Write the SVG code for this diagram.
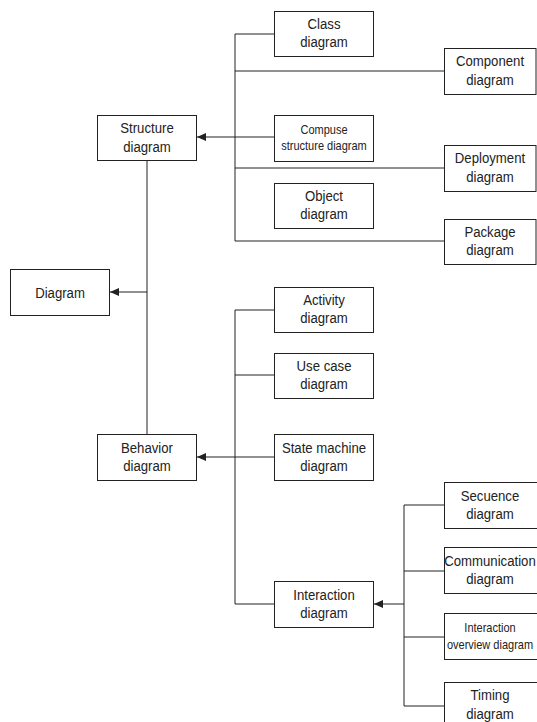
<svg xmlns="http://www.w3.org/2000/svg" width="537" height="722" viewBox="0 0 537 722">
<style>
.box{fill:#fff;stroke:#222;stroke-width:1}
.ln{fill:none;stroke:#222;stroke-width:1}
text{font-family:"Liberation Sans",Arial,sans-serif;font-size:15.5px;fill:#222;text-anchor:middle}
.sm{font-size:12.5px}
</style>
<defs>
<marker id="ah" markerWidth="10" markerHeight="8" refX="9" refY="4" orient="auto" markerUnits="userSpaceOnUse">
<path d="M0,0 L9,4 L0,8 Z" fill="#222"/>
</marker>
</defs>
<rect width="537" height="722" fill="#fff"/>
<g id="connectors">
<path class="ln" d="M147,160 V434"/>
<path class="ln" d="M147,292 H110" marker-end="url(#ah)"/>
<path class="ln" d="M235,34 V241"/>
<path class="ln" d="M235,34 H274 M235,71 H444 M235,168 H444 M235,241 H444"/>
<path class="ln" d="M274,137 H197" marker-end="url(#ah)"/>
<path class="ln" d="M235,310 V604"/>
<path class="ln" d="M235,310 H274 M235,375 H274 M235,604 H274"/>
<path class="ln" d="M274,457 H197" marker-end="url(#ah)"/>
<path class="ln" d="M404,505 V706"/>
<path class="ln" d="M404,505 H444 M404,571 H444 M404,637 H444 M404,706 H444"/>
<path class="ln" d="M404,604 H374" marker-end="url(#ah)"/>
</g>
<g id="structure"><rect class="box" x="97.5" y="115.5" width="99" height="45"/><text transform="translate(147,133) scale(0.85,1)"><tspan x="0" y="0">Structure</tspan><tspan x="0" y="19">diagram</tspan></text></g>
<g id="diagram"><rect class="box" x="10.5" y="269.5" width="99" height="46"/><text transform="translate(60,297.5) scale(0.85,1)">Diagram</text></g>
<g id="behavior"><rect class="box" x="97.5" y="434.5" width="99" height="46"/><text transform="translate(147,452.5) scale(0.85,1)"><tspan x="0" y="0">Behavior</tspan><tspan x="0" y="19">diagram</tspan></text></g>
<g id="class"><rect class="box" x="274.5" y="11.5" width="99" height="45"/><text transform="translate(324,28.5) scale(0.85,1)"><tspan x="0" y="0">Class</tspan><tspan x="0" y="19">diagram</tspan></text></g>
<g id="component"><rect class="box" x="444.5" y="48.5" width="91.5" height="46"/><text transform="translate(490,66) scale(0.85,1)"><tspan x="0" y="0">Component</tspan><tspan x="0" y="19">diagram</tspan></text></g>
<g id="compuse"><rect class="box" x="274.5" y="115.5" width="99" height="46"/><text class="sm" transform="translate(324,133.5) scale(0.88,1)"><tspan x="0" y="0">Compuse</tspan><tspan x="0" y="16.5">structure diagram</tspan></text></g>
<g id="deployment"><rect class="box" x="444.5" y="145.5" width="91.5" height="46"/><text transform="translate(490,163) scale(0.85,1)"><tspan x="0" y="0">Deployment</tspan><tspan x="0" y="19">diagram</tspan></text></g>
<g id="object"><rect class="box" x="274.5" y="183.5" width="99" height="45"/><text transform="translate(324,200.5) scale(0.85,1)"><tspan x="0" y="0">Object</tspan><tspan x="0" y="19">diagram</tspan></text></g>
<g id="package"><rect class="box" x="444.5" y="219.5" width="91.5" height="45"/><text transform="translate(490,236.5) scale(0.85,1)"><tspan x="0" y="0">Package</tspan><tspan x="0" y="19">diagram</tspan></text></g>
<g id="activity"><rect class="box" x="274.5" y="287.5" width="99" height="45"/><text transform="translate(324,304.5) scale(0.85,1)"><tspan x="0" y="0">Activity</tspan><tspan x="0" y="19">diagram</tspan></text></g>
<g id="usecase"><rect class="box" x="274.5" y="353.5" width="99" height="45"/><text transform="translate(324,370.5) scale(0.85,1)"><tspan x="0" y="0">Use case</tspan><tspan x="0" y="19">diagram</tspan></text></g>
<g id="statemachine"><rect class="box" x="274.5" y="434.5" width="99" height="46"/><text transform="translate(324,452.5) scale(0.85,1)"><tspan x="0" y="0">State machine</tspan><tspan x="0" y="19">diagram</tspan></text></g>
<g id="interaction"><rect class="box" x="274.5" y="581.5" width="99" height="46"/><text transform="translate(324,599.5) scale(0.85,1)"><tspan x="0" y="0">Interaction</tspan><tspan x="0" y="19">diagram</tspan></text></g>
<g id="secuence"><rect class="box" x="444.5" y="482.5" width="100" height="46"/><text transform="translate(490,500.5) scale(0.85,1)"><tspan x="0" y="0">Secuence</tspan><tspan x="0" y="19">diagram</tspan></text></g>
<g id="communication"><rect class="box" x="444.5" y="547.5" width="100" height="46"/><text transform="translate(490,565.5) scale(0.85,1)"><tspan x="0" y="0">Communication</tspan><tspan x="0" y="19">diagram</tspan></text></g>
<g id="overview"><rect class="box" x="444.5" y="613.5" width="100" height="46"/><text class="sm" transform="translate(490,632) scale(0.88,1)"><tspan x="0" y="0">Interaction</tspan><tspan x="0" y="17.5">overview diagram</tspan></text></g>
<g id="timing"><rect class="box" x="444.5" y="682.5" width="100" height="46"/><text transform="translate(490,700) scale(0.85,1)"><tspan x="0" y="0">Timing</tspan><tspan x="0" y="19">diagram</tspan></text></g>
</svg>
